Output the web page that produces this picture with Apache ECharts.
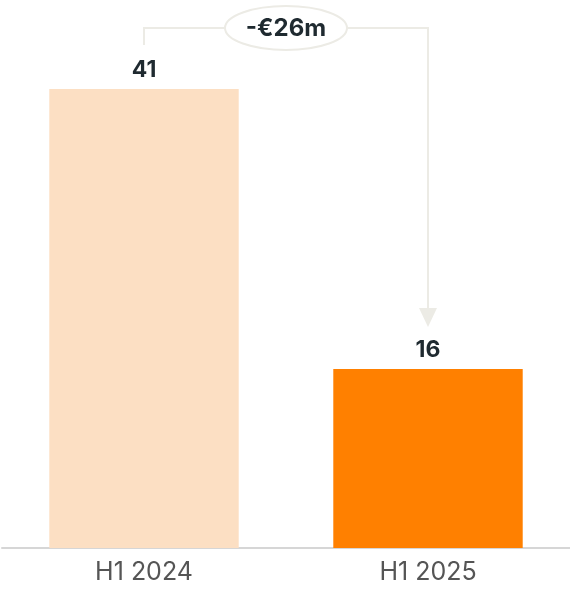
<!DOCTYPE html>
<html>
<head>
<meta charset="utf-8">
<style>
  html, body { margin: 0; padding: 0; background: #fff; }
  #chart { width: 570px; height: 589px; }
</style>
<script src="https://cdn.jsdelivr.net/npm/echarts@6/dist/echarts.min.js"></script>
</head>
<body>
<div id="chart"></div>
<script>
// data
var categories = ['H1 2024', 'H1 2025'];
var values = [41, 16];
var barColors = ['#FCDFC3', '#FF8000'];
var deltaLabel = '-€26m';

var chart = echarts.init(document.getElementById('chart'));

var option = {
    animation: false,
    grid: { left: 2, right: 0, top: 89, bottom: 41 },
    xAxis: {
        type: 'category',
        data: categories,
        axisTick: { show: false },
        axisLine: { lineStyle: { color: '#d6d6d6', width: 2 } },
        axisLabel: {
            color: '#555',
            fontSize: 25,
            fontFamily: 'Inter',
            margin: 12
        }
    },
    yAxis: {
        type: 'value',
        min: 0,
        max: 41,
        show: false,
        splitLine: { show: false }
    },
    series: [{
        type: 'bar',
        barWidth: '66.7%',
        data: values.map(function (v, i) {
            return { value: v, itemStyle: { color: barColors[i] } };
        }),
        label: {
            show: true,
            position: 'top',
            distance: 7,
            color: '#1f2a30',
            fontSize: 23,
            fontWeight: 'bold',
            fontFamily: 'Inter'
        }
    }]
};

chart.setOption(option);

// 连接线 + 差值标签
var p1 = chart.convertToPixel({ xAxisIndex: 0, yAxisIndex: 0 }, [0, values[0]]);
var p2 = chart.convertToPixel({ xAxisIndex: 0, yAxisIndex: 0 }, [1, values[1]]);
var lineY = p1[1] - 61;
var lineColor = '#ecebe5';
var arrowTip = p2[1] - 42;
var midX = (p1[0] + p2[0]) / 2;

chart.setOption({
    graphic: [
        {
            type: 'polyline',
            shape: { points: [[p1[0], p1[1] - 44], [p1[0], lineY], [p2[0], lineY], [p2[0], arrowTip - 18]] },
            style: { stroke: lineColor, lineWidth: 2, fill: null }
        },
        {
            type: 'polygon',
            shape: { points: [[p2[0] - 9, arrowTip - 19], [p2[0] + 9, arrowTip - 19], [p2[0], arrowTip]] },
            style: { fill: lineColor }
        },
        {
            type: 'ellipse',
            shape: { cx: midX, cy: lineY, rx: 61, ry: 22 },
            style: { fill: '#fff', stroke: lineColor, lineWidth: 2 }
        },
        {
            type: 'text',
            x: midX,
            y: lineY + 1,
            style: {
                text: deltaLabel,
                fill: '#1f2a30',
                font: 'bold 24px Inter',
                align: 'center',
                verticalAlign: 'middle'
            }
        }
    ]
});
</script>
</body>
</html>
